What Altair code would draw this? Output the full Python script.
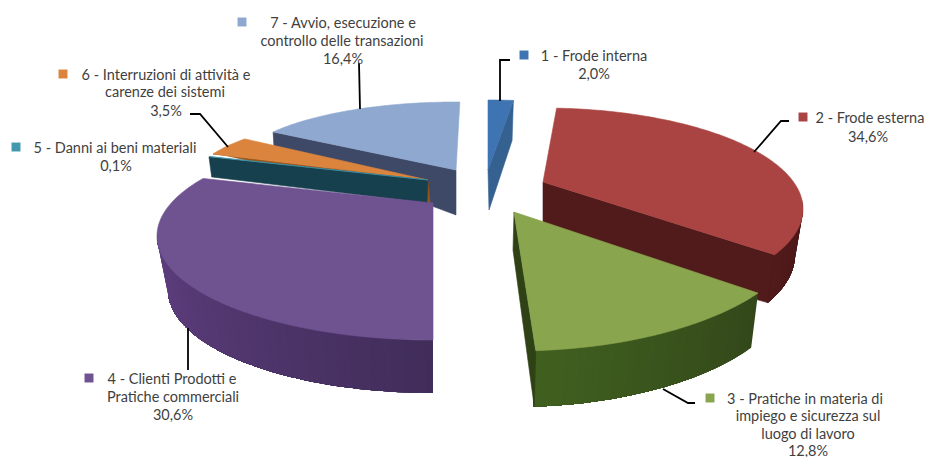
import math
import altair as alt
import pandas as pd

# --- chart values
categories = ["1 - Frode interna", "2 - Frode esterna", "3 - Pratiche in materia di impiego e sicurezza sul luogo di lavoro",
              "4 - Clienti Prodotti e Pratiche commerciali", "5 - Danni ai beni materiali",
              "6 - Interruzioni di attività e carenze dei sistemi", "7 - Avvio, esecuzione e controllo delle transazioni"]
shares = [2.0, 34.6, 12.8, 30.6, 0.1, 3.5, 16.4]

# --- 3D look: per slice projection
keys = ["blue", "red", "green", "purple", "teal", "orange", "light"]
start_deg = [0, 3, 122.7, 180, 290.6, 293.3, 304.9]
stretch = [0.92, 0.915, 1.15, 1.122, 1.0, 1.206, 0.95]
tips = [(488, 170), (543, 182), (514, 212), (433, 203), (428, 180), (428, 180), (456, 170)]
tips_low = [(489, 210), (543, 240), (513, 250), (433, 250), (427, 203), (430, 203), (456, 215)]
top_ell = [(488, 170, 220, 70), (543, 209, 260, 101), (514, 225, 290, 126), (433, 236, 276, 104),
           (428, 180, 234, 66), (428, 180, 234, 66), (456, 172, 223, 70)]
low_ell = [(489, 210, 200, 70), (543, 255, 252, 105), (513, 278, 283, 129), (433, 290, 265, 103),
           (427, 203, 230, 74), (430, 203, 222, 120), (456, 215, 222, 119)]
top_col = ["#3f74b2", "#a94442", "#89a54e", "#6f5290", "#4198af", "#db843d", "#8fa8d0"]
side_col = ["#34618f", "#511a1b", "#2f4216", "#4a3168", "#17404f", "#9a5519", "#3e4967"]
# which straight edge shows its cut face: "end" or "start"
side_edge = ["end", "end", "end", None, "start", "start", "start"]
# outer wall range in drawn degrees and its shade from one end to the other
wall_range = [None, (85, 117), (122.7, 175.8), (180, 270), None, None, None]
wall_cols = [None, ("#4a1718", "#511a1b"), ("#33481a", "#40601f"), ("#412d5a", "#5f3f80"), None, None, None]

# --- labels and leader lines
label_lines = [("1 - Frode interna", 594, 55), ("2,0%", 594, 73),
               ("2 - Frode esterna", 870, 117), ("34,6%", 868, 136),
               ("3 - Pratiche in materia di", 805, 398), ("impiego e sicurezza sul", 808, 415),
               ("luogo di lavoro", 808, 433), ("12,8%", 808, 450),
               ("4 - Clienti Prodotti e", 172, 378), ("Pratiche commerciali", 173, 396), ("30,6%", 173, 414),
               ("5 - Danni ai beni materiali", 115, 147), ("0,1%", 116, 165),
               ("6 - Interruzioni di attività e", 166, 74), ("carenze dei sistemi", 165, 91), ("3,5%", 166, 110),
               ("7 - Avvio, esecuzione e", 343, 22), ("controllo delle transazioni", 342, 40), ("16,4%", 343, 58)]
legend_sq = [(524, 55), (803, 117), (710, 398), (89, 378), (16, 147), (63, 74), (242, 22)]
leaders = [[(500, 101), (500, 60), (510, 60)], [(754, 152), (781, 121), (789, 121)],
           [(663, 389), (688, 403), (695, 403)], [(188, 328), (188, 370)],
           [(190, 114), (200, 114), (228, 147)], [(359, 63), (360, 109)]]


def pt(ell, deg):
    cx, cy, rx, ry = ell
    r = math.radians(deg)
    return (cx + rx * math.sin(r), cy - ry * math.cos(r))


def lerp_col(a, b, f):
    ca = [int(a[i:i + 2], 16) for i in (1, 3, 5)]
    cb = [int(b[i:i + 2], 16) for i in (1, 3, 5)]
    return "#" + "".join(f"{round(x + (y - x) * f):02x}" for x, y in zip(ca, cb))


polys = []


def add(points, color, sw=0.6):
    pid = len(polys)
    polys.append((pid, points, color, sw))


slices = {}
for i, k in enumerate(keys):
    t0 = start_deg[i]
    t1 = t0 + shares[i] * 3.6 * stretch[i]
    slices[k] = (i, t0, t1)


def draw(k):
    i, t0, t1 = slices[k]
    top, low = top_ell[i], low_ell[i]
    if wall_range[i]:
        a, b = wall_range[i]
        steps = int((b - a) / 1.5) + 1
        for s in range(steps):
            # each segment runs on to the far end, the next one paints over it
            arc = [a + (b - a) * q / steps for q in range(s, steps + 1)]
            add([pt(top, w) for w in arc] + [pt(low, w) for w in reversed(arc)],
                lerp_col(wall_cols[i][0], wall_cols[i][1], s / max(steps - 1, 1)), 0)
    if side_edge[i]:
        t = t1 if side_edge[i] == "end" else t0
        add([tips[i], pt(top, t), pt(low, t), tips_low[i]], side_col[i])
    n = max(int(t1 - t0), 1)
    add([tips[i]] + [pt(top, t0 + (t1 - t0) * s / n) for s in range(n + 1)], top_col[i])


for k in ["light", "blue", "orange", "teal", "red", "green", "purple"]:
    draw(k)

rows = []
for pid, points, color, sw in polys:
    for j, (x, y) in enumerate(points):
        rows.append({"pid": pid, "i": j, "x": x, "y": y, "color": color, "sw": sw})
df = pd.DataFrame(rows)

X = alt.X("x:Q", axis=None, scale=alt.Scale(domain=[8, 924], nice=False, zero=False))
Y = alt.Y("y:Q", axis=None, scale=alt.Scale(domain=[457, 8], nice=False, zero=False))

pie = alt.Chart(df).mark_line(filled=True, interpolate="linear-closed", clip=False).encode(
    x=X, y=Y, detail="pid:N", order="i:Q",
    color=alt.Color("color:N", scale=None),
    stroke=alt.Stroke("color:N", scale=None),
    strokeWidth=alt.StrokeWidth("sw:Q", scale=None),
)

lead_df = pd.DataFrame([{"lid": a, "i": j, "x": p[0], "y": p[1]} for a, l in enumerate(leaders) for j, p in enumerate(l)])
lead = alt.Chart(lead_df).mark_line(color="#000000", strokeWidth=1.8).encode(x=X, y=Y, detail="lid:N", order="i:Q")

sq_df = pd.DataFrame([{"x": p[0], "y": p[1], "color": top_col[i]} for i, p in enumerate(legend_sq)])
squares = alt.Chart(sq_df).mark_square(size=80, opacity=1).encode(x=X, y=Y, color=alt.Color("color:N", scale=None))

txt_df = pd.DataFrame([{"t": t, "x": x, "y": y} for t, x, y in label_lines])
text = alt.Chart(txt_df).mark_text(font="Lato", fontSize=14.5, color="#3f3f3f", align="center", baseline="middle", dy=1.5).encode(
    x=X, y=Y, text="t:N")

chart = alt.layer(pie, lead, squares, text).properties(
    width=916, height=449, padding=0, autosize=alt.AutoSizeParams(type="none"), background="#ffffff"
).configure_view(stroke=None)

chart.save("out.html", embed_options={"renderer": "svg", "actions": False})
